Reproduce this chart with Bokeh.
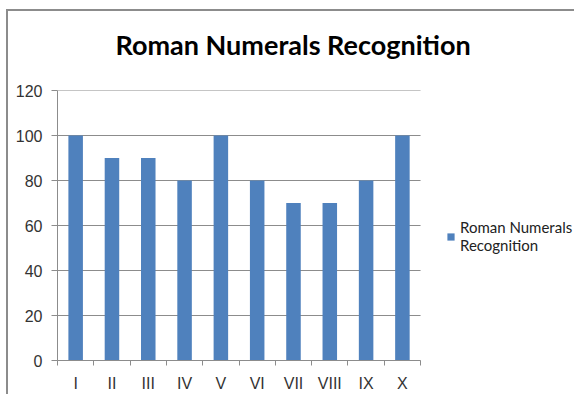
from bokeh.plotting import figure
from bokeh.models import FixedTicker, Legend, LegendItem, ColumnDataSource
from bokeh.embed import file_html
from bokeh.resources import INLINE

categories = ["I", "II", "III", "IV", "V", "VI", "VII", "VIII", "IX", "X"]
values = [100, 90, 90, 80, 100, 80, 70, 70, 80, 100]
series_name = "Roman Numerals\nRecognition"
title_text = "Roman Numerals Recognition"
y_ticks = [0, 20, 40, 60, 80, 100, 120]

n = len(categories)
xs = [i + 1 for i in range(n)]
src = ColumnDataSource(dict(x=xs, top=values, cat=categories))

# frame is widened to the right so the legend can sit inside it
p = figure(width=574, height=394, output_backend="svg", toolbar_location=None,
           x_range=(0.5, 14.74), y_range=(0, 120),
           min_border_left=57, min_border_right=0, min_border_top=88, min_border_bottom=32)
# chart-area border (top and left edges) drawn behind a transparent canvas
p.styles = {
    "background-color": "white",
    "background-image": "linear-gradient(#8c8c8c, #8c8c8c), linear-gradient(#8c8c8c, #8c8c8c)",
    "background-size": "100% 2px, 2px 100%",
    "background-position": "7px 9px, 6px 9px",
    "background-repeat": "no-repeat",
}
p.border_fill_color = None
p.background_fill_color = None
p.outline_line_color = None

# horizontal gridlines limited to the category span
p.segment(x0=[0.5] * len(y_ticks), x1=[n + 0.5] * len(y_ticks), y0=y_ticks, y1=y_ticks,
          line_color="#8c8c8c", line_width=1, level="underlay")

bars = p.vbar(x="x", top="top", width=0.4, bottom=0, source=src,
              fill_color="#4F81BD", line_color=None)

p.title.text = title_text
p.title.text_font = "Lato"
p.title.text_font_style = "bold"
p.title.text_font_size = "27px"
p.title.text_color = "#000000"
p.title.align = "left"
p.title.vertical_align = "top"
p.title.offset = 58
p.title.standoff = 55

# x axis
p.xaxis.bounds = (0.5, n + 0.5)
p.xaxis.ticker = FixedTicker(ticks=xs, minor_ticks=[x - 0.5 for x in xs] + [xs[-1] + 0.5])
p.xaxis.major_label_overrides = {x: c for x, c in zip(xs, categories)}
p.xaxis.major_tick_out = 0
p.xaxis.major_tick_in = 0
p.xaxis.minor_tick_out = 5
p.xaxis.minor_tick_in = 0
p.xaxis.minor_tick_line_color = "#8c8c8c"
p.xaxis.axis_line_color = "#8c8c8c"
p.xaxis.major_label_standoff = 9
p.xaxis.major_label_text_font = "Liberation Sans"
p.xaxis.major_label_text_font_size = "16px"
p.xaxis.major_label_text_color = "#333333"
p.xgrid.grid_line_color = None

# y axis
p.yaxis.ticker = FixedTicker(ticks=y_ticks)
p.yaxis.major_tick_out = 6
p.yaxis.major_tick_in = 0
p.yaxis.minor_tick_line_color = None
p.yaxis.major_tick_line_color = "#8c8c8c"
p.yaxis.axis_line_color = "#8c8c8c"
p.yaxis.major_label_standoff = 9
p.yaxis.major_label_text_font = "Liberation Sans"
p.yaxis.major_label_text_font_size = "16px"
p.yaxis.major_label_text_color = "#333333"
p.ygrid.grid_line_color = None

legend = Legend(items=[LegendItem(label=series_name, renderers=[bars])],
                location=(389, 106), padding=0, margin=0, border_line_color=None,
                background_fill_alpha=0, glyph_width=9, glyph_height=9, label_standoff=5,
                label_text_font="Lato", label_text_font_size="15px",
                label_text_color="#222222")
p.add_layout(legend, "center")

open("out.html", "w").write(file_html(p, INLINE))
